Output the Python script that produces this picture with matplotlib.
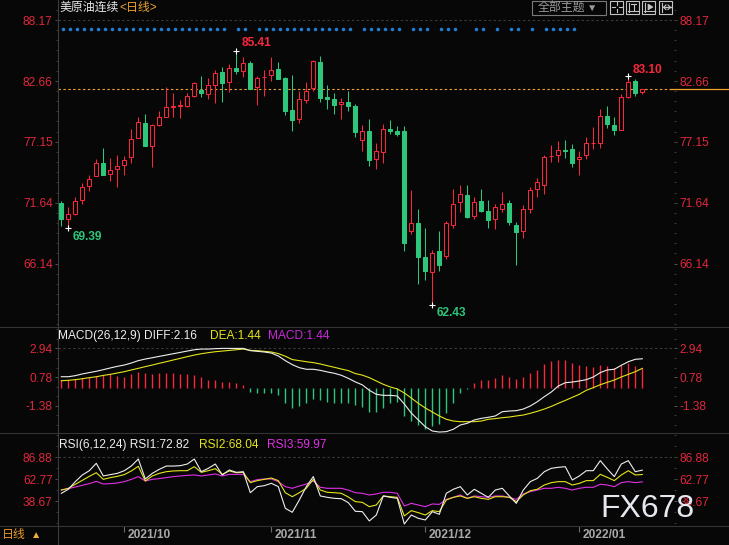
import matplotlib
matplotlib.use('Agg')
import matplotlib.pyplot as plt
from matplotlib.patches import Rectangle
from matplotlib.lines import Line2D
from matplotlib.ticker import FixedLocator
import numpy as np

plt.rcParams['font.family'] = ['Liberation Sans', 'Noto Sans CJK SC', 'DejaVu Sans']

# ---------------- data ----------------
opens = [71.59, 70.20, 70.65, 71.86, 73.13, 74.03, 75.24, 74.21, 74.67, 75.03,
         75.75, 77.47, 78.83, 76.81, 78.71, 79.43, 80.30, 80.44, 80.42, 81.33,
         81.85, 81.46, 82.33, 83.47, 82.54, 83.84, 83.59, 84.29, 82.15, 82.99,
         83.23, 83.72, 82.93, 80.04, 79.25, 80.97, 82.06, 84.38, 81.21, 81.03,
         80.55, 80.76, 80.40, 77.32, 78.14, 75.63, 76.26, 78.34, 78.14, 78.14,
         69.06, 69.78, 66.73, 65.40, 67.25, 66.85, 69.60, 71.68, 72.32, 70.47,
         71.80, 70.89, 70.20, 71.10, 71.62, 69.60, 69.06, 71.10, 72.86, 73.22,
         75.84, 75.94, 76.42, 76.48, 75.57, 75.94, 77.02, 77.08, 79.49, 78.68,
         78.25, 81.24, 82.66, 81.64]
highs = [71.80, 71.28, 72.13, 73.44, 74.12, 75.63, 76.57, 75.66, 75.96, 75.84,
         78.31, 79.43, 79.67, 78.77, 79.95, 82.09, 81.55, 80.94, 81.55, 82.54,
         83.11, 82.93, 83.70, 83.93, 84.20, 85.41, 84.80, 84.47, 83.11, 83.66,
         84.83, 84.38, 83.02, 83.20, 81.76, 82.57, 84.56, 84.92, 82.30, 81.57,
         81.09, 81.76, 80.55, 78.68, 79.22, 77.05, 78.77, 79.13, 78.59, 78.59,
         72.77, 71.08, 69.36, 67.34, 69.09, 69.99, 72.89, 73.25, 73.25, 72.19,
         72.89, 71.89, 71.53, 72.61, 71.89, 69.90, 71.41, 73.04, 73.85, 75.94,
         76.87, 77.26, 77.32, 76.96, 76.33, 77.56, 78.50, 80.13, 80.40, 79.43,
         81.48, 83.10, 82.84, 81.91]
lows = [69.57, 69.39, 70.56, 71.56, 72.74, 74.03, 74.18, 73.64, 73.10, 74.18,
        75.27, 77.47, 76.81, 74.91, 78.62, 79.43, 79.43, 79.34, 80.33, 81.24,
        81.18, 81.03, 80.70, 80.79, 81.69, 83.32, 82.99, 81.91, 80.52, 81.33,
        82.69, 82.87, 79.61, 78.16, 78.89, 80.70, 81.78, 80.76, 80.15, 79.70,
        79.25, 79.97, 77.62, 76.33, 74.97, 74.72, 75.24, 77.86, 77.68, 67.30,
        68.79, 64.32, 64.68, 62.43, 65.47, 66.55, 69.39, 70.83, 70.29, 70.20,
        70.77, 69.39, 69.30, 70.77, 69.60, 66.04, 68.48, 70.74, 72.19, 72.46,
        75.33, 75.33, 75.66, 74.85, 74.18, 75.63, 76.48, 76.62, 78.43, 77.80,
        78.25, 81.15, 81.33, 81.51]
closes = [70.20, 70.59, 71.80, 73.04, 73.76, 75.21, 74.18, 74.58, 74.94, 75.48,
          77.38, 78.92, 76.81, 78.68, 79.40, 80.28, 80.37, 80.48, 81.30, 82.48,
          81.57, 82.27, 83.38, 82.51, 83.81, 83.59, 84.29, 81.91, 82.90, 83.05,
          83.63, 82.87, 79.97, 79.16, 81.00, 81.76, 84.47, 81.15, 81.06, 80.52,
          80.76, 80.42, 78.05, 78.14, 75.51, 76.33, 78.32, 78.16, 77.86, 68.03,
          69.78, 66.76, 65.49, 67.07, 66.04, 69.78, 71.50, 72.41, 70.38, 71.68,
          70.92, 70.08, 71.23, 71.50, 69.93, 69.02, 71.05, 72.77, 73.49, 75.75,
          75.90, 76.39, 76.30, 75.27, 75.75, 77.02, 77.08, 79.49, 78.80, 78.23,
          81.18, 82.54, 81.60, 81.91]

# bars (1-based) that carry a blue signal dot
signal_days = (list(range(1, 25)) + [26, 27] + list(range(29, 43)) + list(range(44, 50))
               + [51, 52, 53, 55, 56, 57, 60, 61, 63, 65, 66, 68] + list(range(70, 75)))

diff = [0.81, 0.81, 0.89, 1.02, 1.12, 1.22, 1.34, 1.47, 1.59, 1.69,
        1.84, 2.02, 2.14, 2.24, 2.34, 2.44, 2.54, 2.64, 2.74, 2.84,
        2.89, 2.89, 2.92, 2.94, 2.94, 2.94, 2.94, 2.77, 2.72, 2.67,
        2.59, 2.37, 2.02, 1.72, 1.49, 1.37, 1.37, 1.29, 1.17, 1.07,
        0.92, 0.69, 0.42, 0.20, -0.21, -0.51, -0.59, -0.59, -0.64, -1.24,
        -1.92, -2.44, -2.95, -3.27, -3.35, -3.32, -3.14, -2.82, -2.69, -2.44,
        -2.32, -2.24, -2.14, -1.82, -1.77, -1.74, -1.62, -1.39, -1.07, -0.69,
        -0.34, 0.11, 0.36, 0.41, 0.49, 0.59, 0.79, 1.12, 1.32, 1.37,
        1.67, 1.94, 2.12, 2.16]
dea = [0.51, 0.54, 0.59, 0.66, 0.74, 0.81, 0.91, 0.99, 1.09, 1.19,
       1.32, 1.44, 1.57, 1.69, 1.82, 1.94, 2.07, 2.19, 2.32, 2.44,
       2.54, 2.62, 2.69, 2.74, 2.79, 2.84, 2.89, 2.79, 2.77, 2.72,
       2.67, 2.55, 2.35, 2.10, 2.02, 1.94, 1.87, 1.77, 1.64, 1.52,
       1.39, 1.27, 1.05, 0.93, 0.74, 0.49, 0.24, 0.04, -0.11, -0.41,
       -0.79, -1.19, -1.54, -1.84, -2.14, -2.39, -2.52, -2.57, -2.57, -2.57,
       -2.52, -2.39, -2.34, -2.27, -2.22, -2.14, -2.07, -1.94, -1.79, -1.62,
       -1.42, -1.19, -0.97, -0.74, -0.51, -0.21, -0.01, 0.21, 0.39, 0.56,
       0.79, 0.99, 1.19, 1.44]
macd_hist = [0.58, 0.56, 0.61, 0.69, 0.76, 0.86, 0.94, 0.99, 0.86, 0.81,
             1.02, 1.14, 1.07, 1.02, 1.07, 1.12, 1.07, 1.04, 0.99, 0.94,
             0.81, 0.56, 0.56, 0.44, 0.39, 0.32, 0.19, -0.31, -0.44, -0.44,
             -0.44, -0.56, -1.14, -1.52, -1.39, -1.19, -0.89, -0.94, -1.07, -1.14,
             -1.19, -1.19, -1.30, -1.44, -1.82, -1.82, -1.52, -1.19, -1.07, -2.14,
             -2.49, -2.82, -3.14, -2.89, -2.77, -1.94, -1.14, -0.39, -0.09, 0.36,
             0.56, 0.56, 0.69, 0.94, 0.79, 0.61, 0.79, 1.09, 1.32, 1.77,
             2.00, 2.07, 2.07, 1.84, 1.69, 1.61, 1.51, 1.69, 1.61, 1.44,
             1.69, 1.82, 1.61, 1.44]

rsi1 = [47.4, 51.8, 60.2, 67.5, 72.2, 80.3, 66.4, 67.9, 69.3, 72.2,
        77.3, 85.0, 63.1, 69.3, 73.7, 77.3, 77.3, 77.7, 79.5, 85.0,
        71.1, 74.8, 79.5, 67.5, 73.0, 70.4, 71.1, 48.1, 54.7, 55.8,
        58.4, 54.7, 31.0, 26.6, 40.1, 54.7, 65.7, 44.5, 43.0, 41.9,
        41.5, 37.2, 27.7, 27.3, 17.1, 23.6, 44.5, 43.0, 41.9, 13.8,
        23.6, 20.0, 18.2, 27.3, 24.4, 47.4, 51.8, 54.7, 45.6, 51.8,
        47.4, 43.0, 51.0, 52.9, 44.5, 36.4, 51.0, 60.2, 63.8, 71.1,
        74.8, 75.9, 76.6, 62.0, 66.4, 72.2, 72.2, 83.2, 74.1, 65.7,
        79.5, 83.2, 71.1, 72.82]
rsi2 = [51.0, 52.9, 57.3, 61.6, 66.0, 70.0, 62.7, 64.6, 66.0, 67.9,
        71.9, 77.0, 60.9, 66.4, 69.3, 71.1, 71.9, 72.2, 72.2, 76.6,
        70.4, 72.2, 74.4, 68.2, 71.9, 70.0, 70.4, 59.1, 61.3, 62.7,
        64.2, 61.3, 48.1, 43.7, 48.1, 52.9, 62.7, 51.0, 48.5, 48.1,
        47.4, 43.4, 38.3, 37.5, 32.8, 34.6, 44.5, 43.7, 43.0, 22.6,
        28.4, 26.2, 23.6, 28.4, 27.3, 40.1, 43.0, 44.5, 41.9, 43.7,
        41.9, 40.8, 43.7, 43.7, 43.0, 38.3, 45.6, 50.3, 51.8, 56.5,
        59.1, 60.2, 60.2, 56.5, 58.3, 61.3, 61.3, 68.2, 64.9, 61.3,
        67.5, 72.2, 67.5, 68.04]
rsi3 = [51.0, 52.5, 54.3, 56.2, 58.0, 60.5, 57.6, 58.0, 58.7, 60.2,
        62.7, 65.7, 60.9, 62.7, 63.5, 64.6, 65.7, 66.4, 67.1, 67.5,
        66.4, 67.5, 68.6, 66.4, 68.2, 68.2, 68.2, 60.2, 62.4, 63.1,
        63.1, 60.2, 54.7, 52.9, 55.4, 57.6, 60.9, 54.0, 52.9, 52.9,
        52.9, 51.0, 48.1, 47.4, 45.6, 46.7, 48.5, 48.5, 47.4, 33.5,
        36.4, 34.6, 32.8, 35.7, 35.3, 40.8, 43.0, 45.6, 41.9, 44.5,
        43.7, 43.0, 44.5, 44.5, 43.0, 40.8, 46.7, 49.2, 51.0, 52.9,
        52.9, 54.0, 52.9, 51.0, 52.9, 54.0, 54.0, 57.3, 56.5, 54.7,
        59.1, 60.2, 59.1, 59.97]

month_start = [10, 31, 53, 75]          # 1-based bar numbers
month_labels = ['2021/10', '2021/11', '2021/12', '2022/01']
price_ticks = [88.17, 82.66, 77.15, 71.64, 66.14]
macd_ticks = [2.94, 0.78, -1.38]
rsi_ticks = [86.88, 62.77, 38.67]
title_name = '美原油连续'
title_period = '<日线>'
macd_title = ['MACD(26,12,9) DIFF:2.16', 'DEA:1.44', 'MACD:1.44']
rsi_title = ['RSI(6,12,24) RSI1:72.82', 'RSI2:68.04', 'RSI3:59.97']

# ---------------- style ----------------
BG = '#070707'
RED = '#f5283c'
GREEN = '#2ec67a'
LRED = '#e0283c'
WHITE = '#eeeeee'
YELLOW = '#e4e41c'
MAGENTA = '#e030e6'
ORANGE = '#f0a030'
SEP = '#333333'
W, H = 729, 545

fig = plt.figure(figsize=(W / 100, H / 100), dpi=100, facecolor=BG)


def rect(x0, y0, x1, y1):
    return [x0 / W, 1 - y1 / H, (x1 - x0) / W, (y1 - y0) / H]


def ftext(x, y, s, **kw):
    kw.setdefault('va', 'center')
    kw.setdefault('ha', 'left')
    return fig.text(x / W, 1 - y / H, s, **kw)


def fline(xs, ys, **kw):
    fig.add_artist(Line2D([x / W for x in xs], [1 - y / H for y in ys],
                          transform=fig.transFigure, **kw))


X0, X1 = 58, 674
XLIM = ((X0 - 61.3) / 7.0, (X1 - 61.3) / 7.0)

axm = fig.add_axes(rect(X0, 0, X1, 327))
axd = fig.add_axes(rect(X0, 327, X1, 433))
axr = fig.add_axes(rect(X0, 433, X1, 526))
axt = fig.add_axes(rect(X0, 526, X1, 545))

for ax in (axm, axd, axr, axt):
    ax.set_facecolor(BG)
    ax.set_xlim(*XLIM)
    for s in ax.spines.values():
        s.set_visible(False)
    ax.set_xticks([])

axm.set_ylim(60.40, 89.99)
axd.set_ylim(-3.421, 4.549)
axr.set_ylim(11.58, 113.51)
axt.set_ylim(0, 1)
axt.set_yticks([])


def yaxis_style(ax, ticks, nminor):
    ax.set_yticks(ticks)
    ax.set_yticklabels([f'{t:.2f}' for t in ticks])
    step = (ticks[0] - ticks[1]) / nminor
    lo, hi = ax.get_ylim()
    k0 = int(np.floor((lo - ticks[-1]) / step)) - 1
    k1 = int(np.ceil((hi - ticks[-1]) / step)) + 1
    minors = [ticks[-1] + step * k for k in range(k0, k1)]
    minors = [m for m in minors if lo < m < hi and all(abs(m - t) > 1e-6 for t in ticks)]
    ax.yaxis.set_minor_locator(FixedLocator(minors))
    ax.yaxis.set_ticks_position('both')
    ax.tick_params(axis='y', which='major', direction='out', length=2.2, width=0.7,
                   color='#555555', labelcolor=LRED, labelsize=8.6, pad=1.6,
                   left=True, right=True, labelleft=True, labelright=True)
    ax.tick_params(axis='y', which='minor', direction='out', length=1.4, width=0.7,
                   color='#3a3a3a', left=True, right=True)
    ax.axhline(ticks[0], color='#3a3a3a', lw=0.8, dashes=(2.2, 2.2), zorder=1)


yaxis_style(axm, price_ticks, 6)
yaxis_style(axd, macd_ticks, 3)
yaxis_style(axr, rsi_ticks, 2)

# ---------------- candles ----------------
o = np.array(opens); c = np.array(closes); h = np.array(highs); l = np.array(lows)
n = len(c)
idx = np.arange(n)
up = c >= o
cols = np.where(up, RED, GREEN)
axm.vlines(idx, l, h, colors=cols, linewidth=0.75, zorder=2)
blo = np.minimum(o, c)
bh = np.maximum(np.abs(c - o), 0.03)
axm.bar(idx[up], bh[up], bottom=blo[up], width=0.55, facecolor=BG, edgecolor=RED,
        linewidth=0.75, zorder=3)
axm.bar(idx[~up], bh[~up], bottom=blo[~up], width=0.55, facecolor=GREEN, edgecolor=GREEN,
        linewidth=0.75, zorder=3)

# signal dots
sig = np.array(signal_days) - 1
axm.scatter(sig + 0.2, np.full(len(sig), 87.37), s=6.5, color='#1f7fd6', linewidths=0, zorder=3)

# last price line
last = closes[-1]
xf = (670 - X0) / (X1 - X0)
axm.axhline(last, xmin=0, xmax=xf, color=ORANGE, lw=0.8, dashes=(2.2, 2.2), zorder=1)
axm.axhline(last, xmin=xf, xmax=(W - X0) / (X1 - X0), color=ORANGE, lw=0.9, clip_on=False, zorder=1)

# extreme markers
i_hi = int(np.argmax(h))
i_lo = int(np.argmin(l))
i_lo0 = int(np.argmin(l[:i_hi]))
i_hi1 = i_lo + int(np.argmax(h[i_lo:]))
marks = [(i_hi, h[i_hi], RED, (4.1, 5.5)),
         (i_lo0, l[i_lo0], GREEN, (3.4, -6.8)),
         (i_lo, l[i_lo], GREEN, (3.4, -6.1)),
         (i_hi1, h[i_hi1], RED, (3.4, 4.3))]
for xi, yv, colr, off in marks:
    axm.plot([xi], [yv], marker='+', ms=5, mew=0.8, color='white', zorder=5)
    axm.annotate(f'{yv:.2f}', xy=(xi, yv), xytext=off, textcoords='offset points',
                 ha='left', va='center', color=colr, fontsize=8.6, fontweight='bold', zorder=6)

# ---------------- MACD ----------------
hist = np.array(macd_hist)
axd.vlines(idx, 0, hist, colors=np.where(hist >= 0, RED, GREEN), linewidth=1.0, zorder=2)
axd.plot(idx, dea, color=YELLOW, lw=0.8, zorder=3)
axd.plot(idx, diff, color=WHITE, lw=0.8, zorder=4)

# ---------------- RSI ----------------
axr.plot(idx, rsi3, color=MAGENTA, lw=0.8, zorder=2)
axr.plot(idx, rsi2, color=YELLOW, lw=0.8, zorder=3)
axr.plot(idx, rsi1, color=WHITE, lw=0.8, zorder=4)

# ---------------- date axis ----------------
ms = np.array(month_start) - 1
axt.vlines(ms, 0.68, 1.0, colors='#6a6a6a', linewidth=0.8)
for m, lab in zip(ms, month_labels):
    axt.annotate(lab, xy=(m, 0.5), xycoords='data', xytext=(2.4, 0), textcoords='offset points',
                 ha='left', va='center', color='#a8a8a8', fontsize=8.6, fontweight='bold')

# ---------------- frame lines ----------------
for yy in (327, 433, 526):
    fline([0, W], [yy, yy], color=SEP, lw=0.8)
fline([X0, X0], [0, H], color='#3c3c3c', lw=0.8)

# ---------------- texts ----------------
ftext(59, 8, title_name, color='#e6e6e6', fontsize=8.6)
ftext(119, 8, title_period, color='#e8a030', fontsize=8.6)
ftext(58, 336, macd_title[0], color=WHITE, fontsize=8.6)
ftext(210, 336, macd_title[1], color=YELLOW, fontsize=8.6)
ftext(268, 336, macd_title[2], color='#c828d8', fontsize=8.6)
ftext(59, 445, rsi_title[0], color=WHITE, fontsize=8.6)
ftext(199, 445, rsi_title[1], color=YELLOW, fontsize=8.6)
ftext(267, 445, rsi_title[2], color=MAGENTA, fontsize=8.6)

ftext(2, 535, '日线', color='#e89a28', fontsize=8.6)
ftext(31, 535, '▲', color='#e8b040', fontsize=7.5)
ftext(600, 509, 'FX678', color='#e6e8f0', fontsize=23)

# header button and icons
fig.add_artist(Rectangle((532 / W, 1 - 14.5 / H), 74 / W, 14 / H, transform=fig.transFigure,
                         facecolor=BG, edgecolor='#7a7a7a', lw=0.8))
ftext(538, 7.5, '全部主题', color='#9a9a9a', fontsize=8.6)
ftext(587, 7.5, '▼', color='#9a9a9a', fontsize=7.5)
IC = '#c4c4c4'
for bx in (610, 626, 642, 659):
    fig.add_artist(Rectangle((bx / W, 1 - 13.5 / H), 13 / W, 12.5 / H, transform=fig.transFigure,
                             facecolor=BG, edgecolor=IC, lw=0.8))
# icon 1: crosshair
fline([611.5, 614.5], [7.3, 7.3], color=IC, lw=0.8)
fline([618.5, 621.5], [7.3, 7.3], color=IC, lw=0.8)
fline([616.5, 616.5], [2.2, 5.3], color=IC, lw=0.8)
fline([616.5, 616.5], [9.3, 12.4], color=IC, lw=0.8)
# icon 2
fline([629, 629], [2.5, 12], color=IC, lw=0.8)
fline([628, 637.5], [11, 11], color=IC, lw=0.8)
fline([633.5, 633.5], [3.5, 9.5], color=IC, lw=0.8)
fline([631, 636], [4, 4], color=IC, lw=0.8)
# icon 3
fline([645, 645], [2.5, 12], color=IC, lw=0.8)
fline([644, 654.5], [11, 11], color=IC, lw=0.8)
fig.add_artist(plt.Polygon([(648 / W, 1 - 4 / H), (648 / W, 1 - 10 / H), (653 / W, 1 - 7 / H)],
                           closed=True, transform=fig.transFigure, facecolor=IC, edgecolor=IC, lw=0.5))
# icon 4
fline([662, 662], [2.5, 12], color=IC, lw=0.8)
fline([663.5, 670.5], [7.3, 7.3], color=IC, lw=1.0)
fline([668, 670.5, 668], [5, 7.3, 9.6], color=IC, lw=0.8)
fline([666, 663.5, 666], [5, 7.3, 9.6], color=IC, lw=0.8)

fig.savefig('out.png', dpi=100, facecolor=BG)
